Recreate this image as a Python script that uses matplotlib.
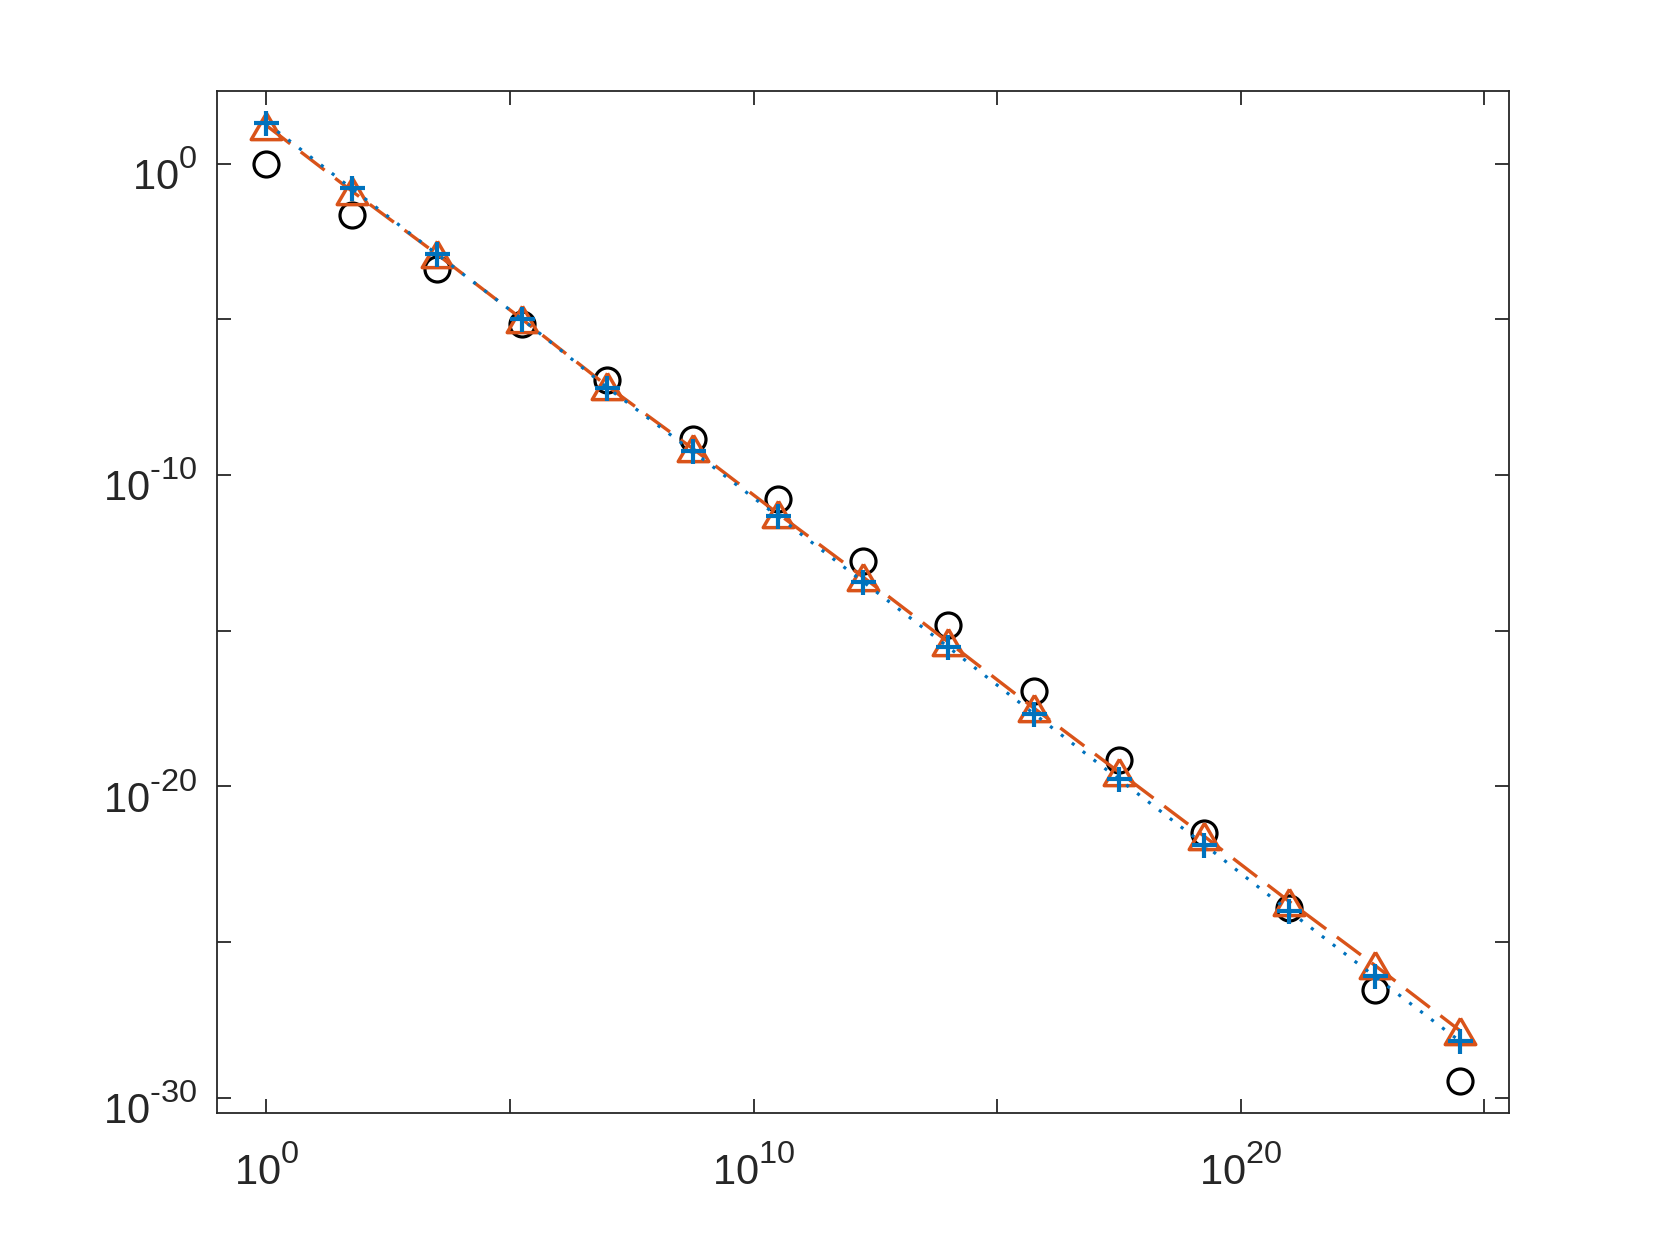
import matplotlib
matplotlib.use("Agg")
import matplotlib.pyplot as plt
import matplotlib._mathtext as mathtext_internals
import matplotlib.transforms as mtransforms
import numpy as np
from matplotlib.ticker import FixedLocator, FuncFormatter, NullLocator

# x positions (log10) of the samples
x_exp = [0.0, 1.75, 3.5, 5.25, 7.0, 8.75, 10.5, 12.25, 14.0, 15.75,
         17.5, 19.25, 21.0, 22.75, 24.5]
# series values (log10)
circle_exp = [0.0, -1.64, -3.40, -5.14, -6.94, -8.85, -10.78, -12.77,
              -14.83, -16.95, -19.16, -21.48, -23.90, -26.55, -29.46]
triangle_exp = [1.22, -0.88, -2.91, -5.00, -7.15, -9.15, -11.24, -13.28,
                -15.37, -17.48, -19.54, -21.60, -23.70, -25.74, -27.84]
plus_exp = [1.30, -0.80, -2.91, -5.00, -7.20, -9.24, -11.33, -13.43,
            -15.53, -17.66, -19.77, -21.87, -24.01, -26.10, -28.18]

x_ticks_exp = [0, 5, 10, 15, 20, 25]
y_ticks_exp = [-30, -25, -20, -15, -10, -5, 0]

plt.rcParams["font.family"] = ["Liberation Sans", "DejaVu Sans"]
plt.rcParams["mathtext.fontset"] = "custom"
plt.rcParams["mathtext.rm"] = "Liberation Sans"
plt.rcParams["mathtext.default"] = "regular"
plt.rcParams["axes.unicode_minus"] = False
# MATLAB-like exponents: a bit larger and raised a bit higher
mathtext_internals.SHRINK_FACTOR = 0.78
mathtext_internals.FontConstantsBase.sup1 = 0.89

axis_color = "#262626"
orange = "#D95319"
blue = "#0072BD"

x = 10.0 ** np.array(x_exp)

fig = plt.figure(figsize=(16.67, 12.5), dpi=100)
ax = fig.add_axes([0.13, 0.11, 0.775, 0.817])

ax.plot(x, 10.0 ** np.array(circle_exp), linestyle="none", marker="o",
        markersize=18, markerfacecolor="none", markeredgecolor="black",
        markeredgewidth=2.3, zorder=3)
tri = [(0, 0.86), (-1, -0.86), (1, -0.86), (0, 0.86)]
ax.plot(x, 10.0 ** np.array(triangle_exp), linestyle=(0, (9, 4)), color=orange,
        linewidth=2.4, marker=tri, markersize=22, markerfacecolor="none",
        markeredgecolor=orange, markeredgewidth=2.5, zorder=4)
ax.plot(x, 10.0 ** np.array(plus_exp), linestyle=(0, (1, 3.3)), color=blue,
        linewidth=2.3, marker="+", markersize=18, markeredgewidth=3.0,
        zorder=5)

ax.set_xscale("log")
ax.set_yscale("log")
ax.set_xlim(10 ** -1.02, 10 ** 25.5)
ax.set_ylim(10 ** -30.47, 10 ** 2.32)


def fmt(v, pos):
    e = int(round(np.log10(v)))
    if e % 10:
        return ""
    if e < 0:
        return f"$10^{{\\text{{-}}{-e}}}$"
    return f"$10^{{{e}}}$"


ax.xaxis.set_major_locator(FixedLocator([10.0 ** e for e in x_ticks_exp]))
ax.yaxis.set_major_locator(FixedLocator([10.0 ** e for e in y_ticks_exp]))
ax.xaxis.set_minor_locator(NullLocator())
ax.yaxis.set_minor_locator(NullLocator())
ax.xaxis.set_major_formatter(FuncFormatter(fmt))
ax.yaxis.set_major_formatter(FuncFormatter(fmt))

ax.tick_params(which="both", direction="in", length=10, width=1.3,
               colors=axis_color, labelsize=30, top=True, right=True)
ax.tick_params(axis="x", pad=25)
ax.tick_params(axis="y", pad=14)
for s in ax.spines.values():
    s.set_color(axis_color)
    s.set_linewidth(1.3)
shift_down = mtransforms.ScaledTranslation(0, -8.5 / 72, fig.dpi_scale_trans)
for t in ax.yaxis.get_major_ticks():
    t.label1.set_verticalalignment("center")
    t.label1.set_transform(t.label1.get_transform() + shift_down)

fig.savefig("out.png", dpi=100, facecolor="white")
